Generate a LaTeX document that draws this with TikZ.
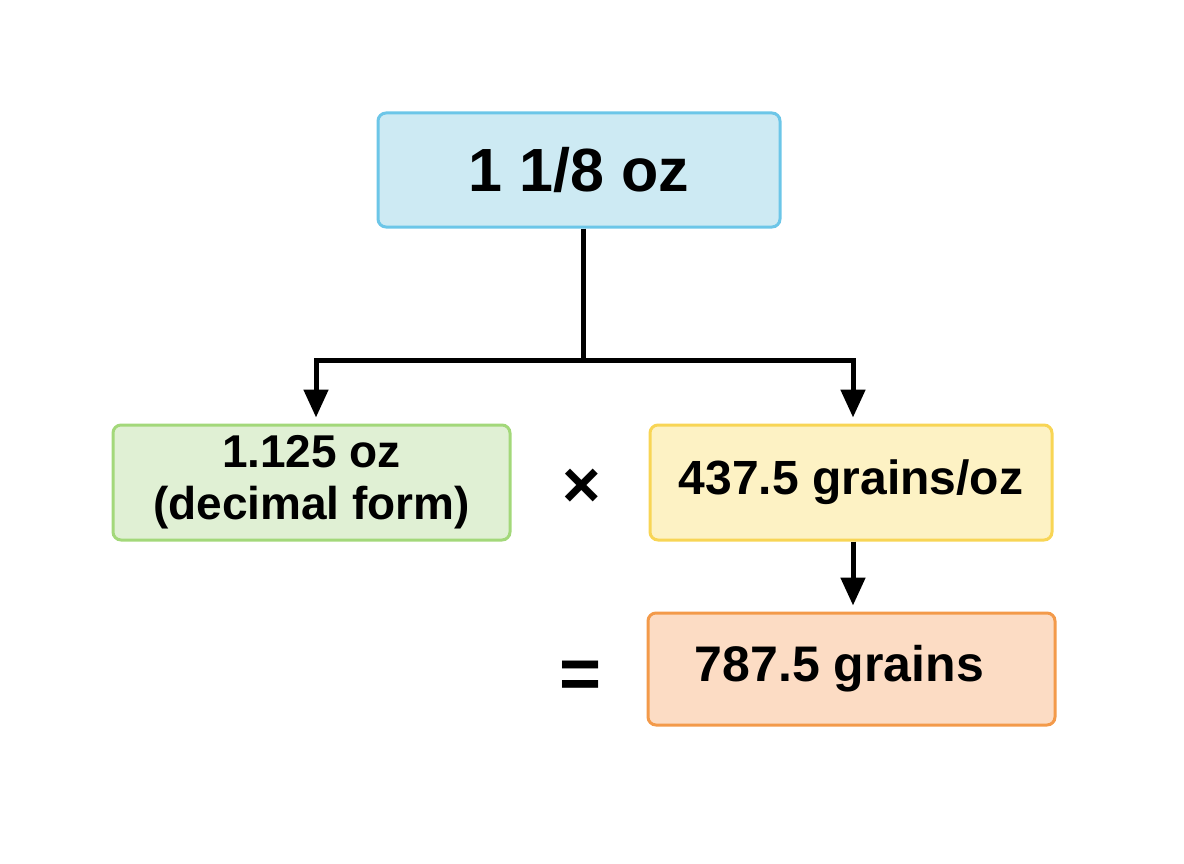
\documentclass[tikz,border=0pt]{standalone}
\usepackage{fontspec}
\setmainfont{Liberation Sans}
\usetikzlibrary{arrows.meta,positioning}

\definecolor{ozfill}{HTML}{CDEAF3}
\definecolor{ozline}{HTML}{6CC6E8}
\definecolor{decfill}{HTML}{E0F0D4}
\definecolor{decline}{HTML}{A3D87A}
\definecolor{ratefill}{HTML}{FDF2C4}
\definecolor{rateline}{HTML}{F8D555}
\definecolor{resfill}{HTML}{FCDCC4}
\definecolor{resline}{HTML}{F39A4A}

\tikzset{
  box/.style={draw, line width=3pt, rounded corners=8pt, align=center,
              font=\bfseries, inner sep=0pt},
  link/.style={line width=5pt, draw=black},
  flow/.style={link, -{Triangle[length=28pt,width=24pt]}, shorten >=6pt},
  sign/.style={font=\bfseries}
}

\begin{document}
\begin{tikzpicture}[x=1pt,y=-1pt]
 \useasboundingbox (0,0) rectangle (1184,864);
 % boxes
 \node[box, fill=ozfill, draw=ozline, minimum width=402pt, minimum height=114pt,
       font=\bfseries\fontsize{61}{66}\selectfont] (oz) at (579,170) {1 1/8 oz};
 \node[box, fill=decfill, draw=decline, minimum width=397pt, minimum height=115pt,
       font=\bfseries\fontsize{46}{52}\selectfont] (dec) at (311.5,482.5) {1.125 oz\\(decimal form)};
 \node[box, fill=ratefill, draw=rateline, minimum width=402pt, minimum height=115pt,
       font=\bfseries\fontsize{48}{52}\selectfont] (rate) at (851,482.5) {437.5 grains/oz};
 \node[box, fill=resfill, draw=resline, minimum width=407pt, minimum height=112pt,
       font=\bfseries\fontsize{50}{54}\selectfont] (res) at (851.5,669) {787.5 grains\hspace{24pt}};
 % operators
 \node[sign, font=\bfseries\fontsize{66}{70}\selectfont] (times) at (582,488) {×};
 \node[sign, font=\bfseries\fontsize{72}{76}\selectfont] (equals) at (581,680) {=};
 % connectors
 \coordinate (split) at (583,360);
 \draw[link] ([xshift=4pt]oz.south) -- (split);
 \draw[flow] (split) -| ([xshift=4.5pt]dec.north);
 \draw[flow] (split) -| ([xshift=2pt]rate.north);
 \draw[flow] ([xshift=2pt]rate.south) -- ([xshift=1.5pt]res.north);
\end{tikzpicture}
\end{document}
